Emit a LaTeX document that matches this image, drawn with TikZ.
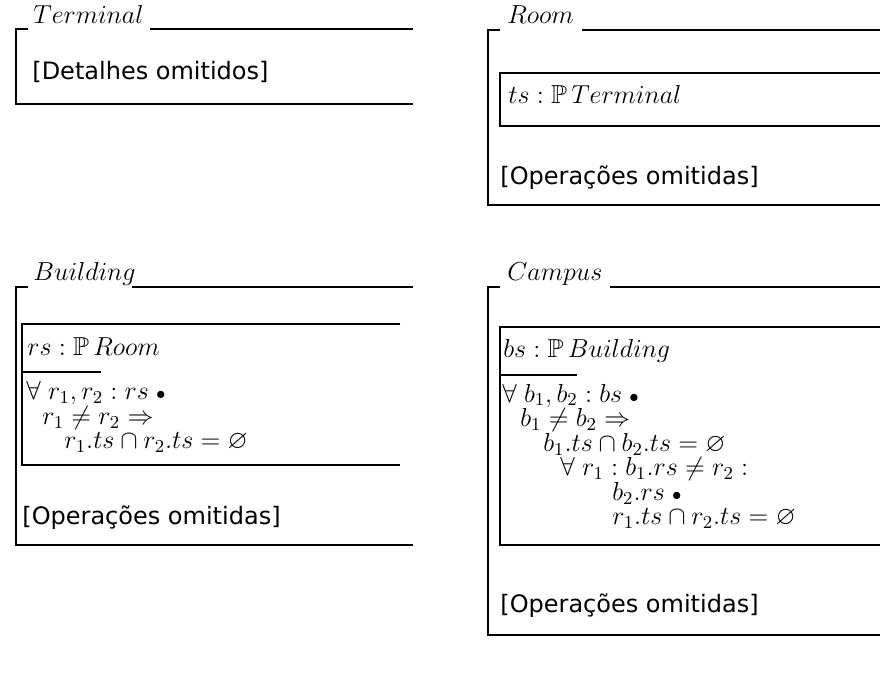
\RequirePackage{fix-cm}
\documentclass[tikz,border=0pt]{standalone}
\usepackage{fontspec}
\setsansfont{DejaVu Sans}
\usepackage{amssymb}
\newcommand{\zdot}{\mathrel{\scriptstyle\bullet}}
\newcommand{\zedsize}{\fontsize{13}{12.3}\selectfont\lineskiplimit-20pt\relax}
\begin{document}
\begin{tikzpicture}[x=0.5pt,y=-0.5pt,
	every node/.style={inner sep=0pt,anchor=base west},
	note/.style={font=\sffamily\fontsize{12}{14}\selectfont},
	zed/.style={font=\zedsize},
	pred/.style={zed,align=left},
	frame/.style={line width=0.75pt}
	]
	\useasboundingbox (0,0) rectangle (880,679);
	\node[zed]  (term)  at (33,24)  {$Terminal$};
	\node[note] (tdet)  at (32,80)  {[Detalhes omitidos]};
	\draw[frame] (28,29) -- (16,29) -- (16,104) -- (413,104);
	\draw[frame] (150,29) -- (413,29);
	\node[zed]  (room)  at (507,24)  {$Room$};
	\node[zed]  (rdecl) at (508,104) {$ts : \mathbb{P}\,Terminal$};
	\node[note] (rops)  at (500,185) {[Operações omitidas]};
	\draw[frame] (500,30) -- (488,30) -- (488,205) -- (880,205);
	\draw[frame] (582,30) -- (880,30);
	\draw[frame] (880,73) -- (500,73) -- (500,126) -- (880,126);
	\node[zed]  (bldg)  at (33,281)  {$Building$};
	\node[zed]  (bdecl) at (27,356)  {$rs : \mathbb{P}\,Room$};
	\node[pred] (bpred) at (26,449)  {$\forall\; r_1, r_2 : rs \zdot$\\
		\hspace*{8pt}$r_1 \neq r_2 \Rightarrow$\\
		\hspace*{19pt}$r_1.ts \cap r_2.ts = \varnothing$};
	\node[note] (bops)  at (22,525)  {[Operações omitidas]};
	\draw[frame] (28,287) -- (16,287) -- (16,545) -- (413,545);
	\draw[frame] (132,287) -- (413,287);
	\draw[frame] (400,324) -- (22,324) -- (22,465) -- (400,465);
	\draw[frame] (22,372) -- (101,372);
	\node[zed]  (camp)  at (507,281) {$Campus$};
	\node[zed]  (cdecl) at (503,358) {$bs : \mathbb{P}\,Building$};
	\node[pred] (cpred) at (502,525) {$\forall\; b_1, b_2 : bs \zdot$\\
		\hspace*{9pt}$b_1 \neq b_2 \Rightarrow$\\
		\hspace*{20.5pt}$b_1.ts \cap b_2.ts = \varnothing$\\
		\hspace*{29pt}$\forall\; r_1 : b_1.rs \neq r_2 :$\\
		\hspace*{55pt}$b_2.rs \zdot$\\
		\hspace*{55pt}$r_1.ts \cap r_2.ts = \varnothing$};
	\node[note] (cops)  at (500,613) {[Operações omitidas]};
	\draw[frame] (500,287) -- (488,287) -- (488,635) -- (880,635);
	\draw[frame] (610,287) -- (880,287);
	\draw[frame] (880,327) -- (500,327) -- (500,545) -- (880,545);
	\draw[frame] (500,375) -- (577,375);
\end{tikzpicture}
\end{document}
